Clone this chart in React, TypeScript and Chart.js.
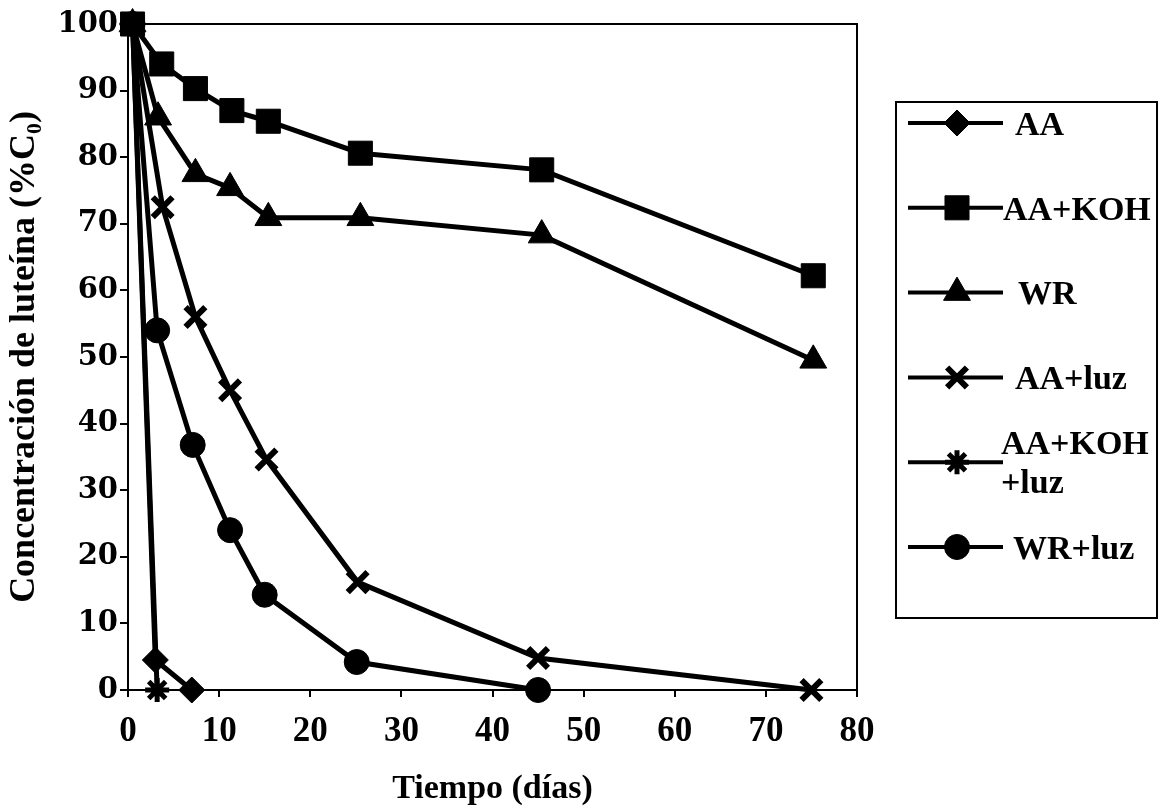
import React, { useEffect, useRef } from 'react';
import { Chart, registerables } from 'chart.js';
import { drawPoint } from 'chart.js/helpers';

Chart.register(...registerables);

// ---- data ----
const seriesNames = ['AA', 'AA+KOH', 'WR', 'AA+luz', 'AA+KOH\n+luz', 'WR+luz'];

const diasAA = [0.5, 3, 7];
const valAA = [100, 4.5, 0];

const diasAAKOH = [0.5, 3.7, 7.4, 11.4, 15.4, 25.5, 45.4, 75.2];
const valAAKOH = [100, 94, 90.3, 87, 85.4, 80.6, 78.1, 62.2];

const diasWR = [0.5, 3.3, 7.4, 11.2, 15.4, 25.5, 45.4, 75.2];
const valWR = [100, 86, 77.5, 75.4, 70.9, 70.9, 68.3, 49.5];

const diasAALuz = [0.5, 3.8, 7.4, 11.2, 15.2, 25.2, 45, 75];
const valAALuz = [100, 72.5, 56, 45, 34.6, 16.2, 4.8, 0];

const diasAAKOHLuz = [0.5, 3.2];
const valAAKOHLuz = [100, 0];

const diasWRLuz = [0.5, 3.2, 7.1, 11.2, 15, 25.1, 45];
const valWRLuz = [100, 54, 36.8, 24, 14.3, 4.2, 0];

const xTickValues = [0, 10, 20, 30, 40, 50, 60, 70, 80];
const yTickValues = [0, 10, 20, 30, 40, 50, 60, 70, 80, 90, 100];

const xTitle = 'Tiempo (días)';
const yTitle = 'Concentración de luteína (%C\u2080)';

// ---- styles ----
const pointStyles = ['rectRot', 'rect', 'triangle', 'crossRot', 'star', 'circle'];
const pointRadii = [13, 17, 15.5, 14, 12, 12.5];
const pointBorders = [1, 1, 1, 6, 5, 1];
const legendTextX = [1015, 1003, 1018, 1015, 1001, 1013];

const FONT = '"Liberation Serif", "Times New Roman", serif';
const YFONT = '"DejaVu Serif", serif';

const toXY = (xs: number[], ys: number[]) => xs.map((x, i) => ({ x, y: ys[i] }));

const allSeries = [
  toXY(diasAA, valAA),
  toXY(diasAAKOH, valAAKOH),
  toXY(diasWR, valWR),
  toXY(diasAALuz, valAALuz),
  toXY(diasAAKOHLuz, valAAKOHLuz),
  toXY(diasWRLuz, valWRLuz),
];

const frameBox = {
  id: 'frameBox',
  beforeDatasetsDraw(chart: any) {
    const { ctx, chartArea } = chart;
    ctx.save();
    ctx.strokeStyle = '#000';
    ctx.lineWidth = 2;
    ctx.beginPath();
    ctx.moveTo(chartArea.left, chartArea.top);
    ctx.lineTo(chartArea.right, chartArea.top);
    ctx.lineTo(chartArea.right, chartArea.bottom);
    ctx.stroke();
    ctx.restore();
  },
};

const boxLegend = {
  id: 'boxLegend',
  afterDraw(chart: any) {
    const ctx = chart.ctx;
    ctx.save();
    ctx.strokeStyle = '#000';
    ctx.fillStyle = '#000';
    ctx.lineWidth = 2;
    ctx.strokeRect(896, 102, 261, 516);
    chart.data.datasets.forEach((ds: any, i: number) => {
      const y = 123 + i * 84.8;
      ctx.lineWidth = 4;
      ctx.beginPath();
      ctx.moveTo(908, y);
      ctx.lineTo(1003, y);
      ctx.stroke();
      ctx.lineWidth = ds.pointBorderWidth;
      drawPoint(
        ctx,
        { pointStyle: ds.pointStyle, rotation: 0, radius: ds.pointRadius, borderWidth: ds.pointBorderWidth } as any,
        957,
        y
      );
      ctx.font = `bold 34px ${FONT}`;
      ctx.textBaseline = 'middle';
      ctx.textAlign = 'left';
      const lines = String(ds.label).split('\n');
      const lh = 39;
      lines.forEach((ln, k) => {
        const ly = y + (k - (lines.length - 1) / 2) * lh + 3;
        ctx.fillText(ln, legendTextX[i], ly);
      });
    });
    ctx.restore();
  },
};

export default function App() {
  const ref = useRef<HTMLCanvasElement | null>(null);

  useEffect(() => {
    if (!ref.current) return;
    const chart = new Chart(ref.current, {
      type: 'line',
      data: {
        datasets: allSeries.map((d, i) => ({
          label: seriesNames[i],
          data: d,
          borderColor: '#000',
          backgroundColor: '#000',
          borderWidth: 5,
          pointStyle: pointStyles[i] as any,
          pointRadius: pointRadii[i],
          pointBorderWidth: pointBorders[i],
          pointBackgroundColor: '#000',
          pointBorderColor: '#000',
          pointHoverRadius: pointRadii[i],
          tension: 0,
          clip: false as any,
        })),
      },
      options: {
        animation: false,
        responsive: false,
        devicePixelRatio: 1,
        layout: { padding: { left: 0, right: 304, top: 24, bottom: 0 } },
        plugins: { legend: { display: false }, tooltip: { enabled: false } },
        scales: {
          x: {
            type: 'linear',
            min: 0,
            max: 80,
            afterFit: (s: any) => { s.height = 121; },
            afterBuildTicks: (s: any) => { s.ticks = xTickValues.map((v) => ({ value: v })); },
            ticks: { color: '#000', font: { family: FONT, size: 35, weight: 'bold' }, padding: 14, maxRotation: 0 },
            grid: { drawOnChartArea: false, drawTicks: true, tickLength: 7, color: '#000', lineWidth: 2 },
            border: { display: true, color: '#000', width: 2 },
            title: { display: true, text: xTitle, color: '#000', font: { family: FONT, size: 34, weight: 'bold' }, padding: { top: 0, bottom: 1 } },
          },
          y: {
            type: 'linear',
            min: 0,
            max: 100,
            afterFit: (s: any) => { s.width = 128; },
            afterBuildTicks: (s: any) => { s.ticks = yTickValues.map((v) => ({ value: v })); },
            ticks: { color: '#000', font: { family: YFONT, size: 29, weight: 'bold' }, padding: 2 },
            grid: { drawOnChartArea: false, drawTicks: true, tickLength: 8, color: '#000', lineWidth: 2 },
            border: { display: true, color: '#000', width: 2 },
            title: { display: true, text: yTitle, color: '#000', font: { family: FONT, size: 36, weight: 'bold' }, padding: { top: 3, bottom: 0 } },
          },
        },
      },
      plugins: [frameBox, boxLegend],
    });
    return () => chart.destroy();
  }, []);

  return (
    <div style={{ position: 'fixed', left: 0, top: 0, width: 1161, height: 811, background: '#fff' }}>
      <canvas ref={ref} width={1161} height={811} style={{ width: 1161, height: 811, display: 'block' }} />
    </div>
  );
}
